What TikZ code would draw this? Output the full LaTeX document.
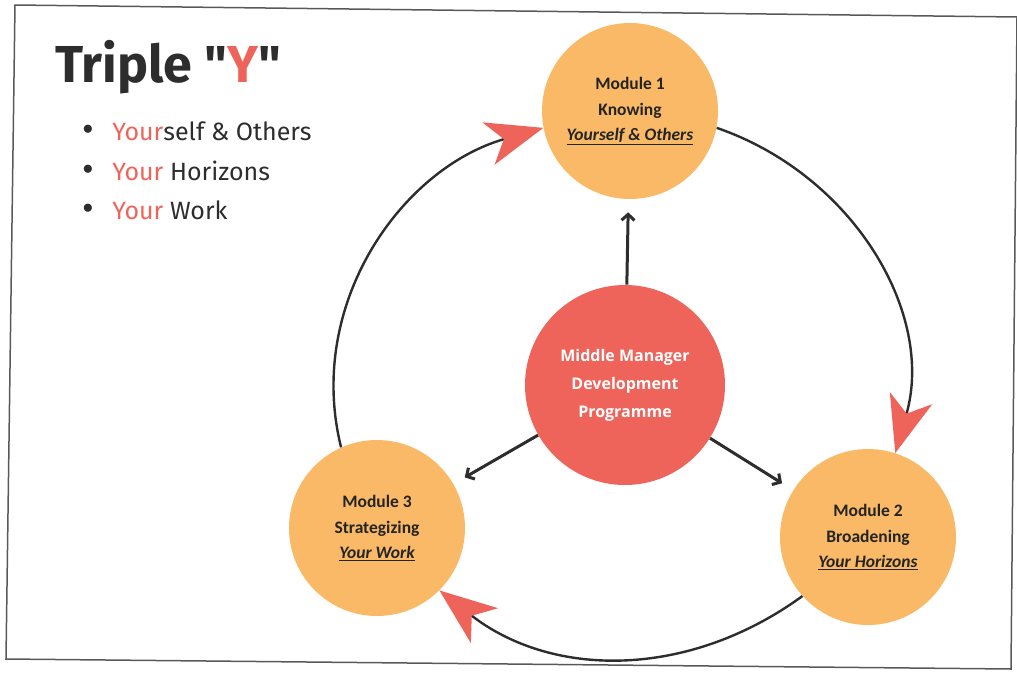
\documentclass[tikz,border=0pt]{standalone}
\usepackage{fontspec}
\setmainfont{Fira Sans}
\newfontfamily\titlefont{Fira Sans}[Ligatures=TeXOff]
\newfontfamily\modfont{Carlito}
\newfontfamily\midfont{Open Sans}
\usetikzlibrary{arrows.meta,positioning}
\definecolor{modorange}{RGB}{249,185,102}
\definecolor{midred}{RGB}{238,100,90}
\definecolor{txtgray}{RGB}{45,45,45}

\begin{document}
\begin{tikzpicture}[x=1pt,y=1pt,semithick]
	\tikzstyle{module}=[circle, fill=modorange, minimum size=176pt, inner sep=0pt, text=txtgray!80!black, align=center, font=\modfont\bfseries\fontsize{17.5}{25.5}\selectfont]
	\tikzstyle{loop}=[draw=txtgray, line width=2.4pt, -{Stealth[color=midred, length=57pt, width=44pt, inset=16pt]}]
	\tikzstyle{spoke}=[draw=txtgray, line width=3pt, -{Straight Barb[length=6pt, width=13pt]}, shorten >=13pt]
	\tikzstyle{item}=[anchor=base west, inner sep=0pt, text=txtgray, font=\fontsize{25}{30}\selectfont]
	\newcommand{\dotitem}{\makebox[30pt][l]{\raisebox{-1pt}{\fontsize{36}{36}\selectfont\textbullet}}}

	\useasboundingbox (0,0) rectangle (1017,-672);
	% slide frame
	\draw[gray!70!black, line width=1.5pt] (15,-5) -- (1017,-17) -- (1011,-669) -- (6,-659) -- cycle;

	\node[anchor=base west, inner sep=0pt, text=txtgray, font=\titlefont\bfseries\fontsize{52}{60}\selectfont] (5) at (55,-82) {Triple "{\color{midred}Y}"};
	\node[item] (6) at (82,-140) {\dotitem{\color{midred}Your}self \& Others};
	\node[item] (7) at (82,-180) {\dotitem{\color{midred}Your} Horizons};
	\node[item] (8) at (82,-219) {\dotitem{\color{midred}Your} Work};

	\node[circle, fill=midred, minimum size=200pt, text=white, align=center, font=\midfont\bfseries\fontsize{16}{28}\selectfont] (0) at (625,-385) {Middle Manager\\Development\\Programme};
	\node[module] (1) at (630,-111) {Module 1\\Knowing\\\underline{\itshape Yourself \& Others}};
	\node[module] (2) at (868,-537) {Module 2\\Broadening\\\underline{\itshape Your Horizons}};
	\node[module] (3) at (377,-528) {Module 3\\Strategizing\\\underline{\itshape Your Work}};

	\path (0) edge[spoke] (1);
	\path (0) edge[spoke] (2);
	\path (0) edge[spoke] (3);

	\draw[loop] (1.-11) to[out=-19, in=74] (2.72);
	\draw[loop] (2.-138) to[out=-144, in=-38] (3.-45);
	\draw[loop] (3.114) to[out=104, in=196] (1.191);

\end{tikzpicture}
\end{document}
